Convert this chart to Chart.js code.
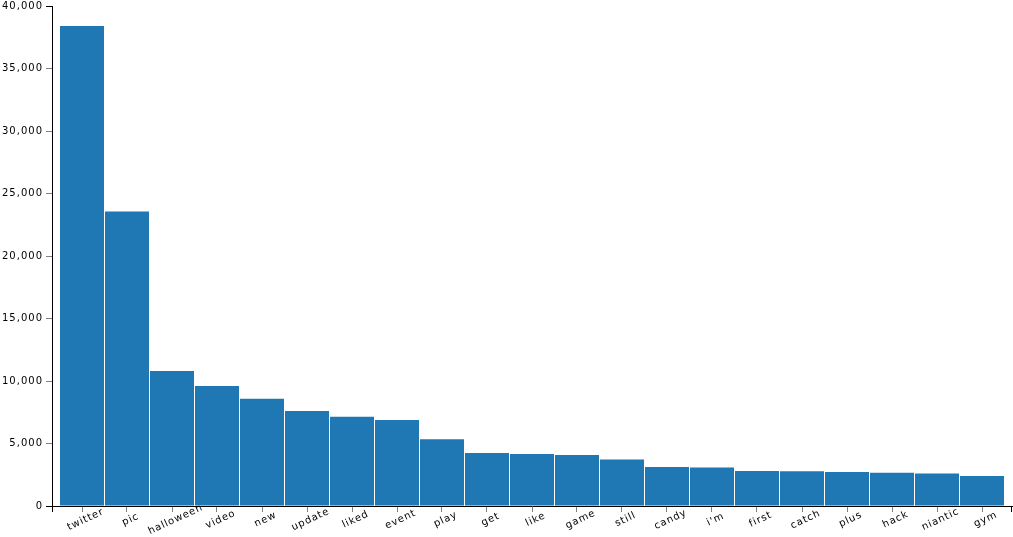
<!DOCTYPE html>
<html>
<head>
<meta charset="utf-8">
<script src="https://cdn.jsdelivr.net/npm/chart.js@4"></script>
<style>
html,body{margin:0;padding:0;background:#fff;}
#wrap{width:1013px;height:537px;}
</style>
</head>
<body>
<div id="wrap"><canvas id="c"></canvas></div>
<script>
const categories = ["twitter","pic","halloween","video","new","update","liked","event","play","get","like","game","still","candy","i'm","first","catch","plus","hack","niantic","gym"];
const counts = [38400,23560,10800,9610,8580,7600,7140,6890,5340,4240,4160,4090,3730,3120,3090,2800,2780,2720,2670,2610,2400];
const yTicks = [0,5000,10000,15000,20000,25000,30000,35000,40000];

const FONT = '10px "DejaVu Sans"';

const axisExtras = {
  id: 'axisExtras',
  beforeDraw(chart) { chart.ctx.letterSpacing = '1px'; },
  afterDraw(chart) {
    const ctx = chart.ctx;
    const xs = chart.scales.x;
    const area = chart.chartArea;
    ctx.save();
    ctx.strokeStyle = '#000';
    ctx.lineWidth = 1;
    ctx.beginPath();
    ctx.moveTo(Math.round(area.left) + 0.5, area.bottom);
    ctx.lineTo(Math.round(area.left) + 0.5, area.bottom + 6);
    ctx.moveTo(Math.round(area.right) - 0.5, area.bottom);
    ctx.lineTo(Math.round(area.right) - 0.5, area.bottom + 6);
    ctx.stroke();
    ctx.font = FONT;
    ctx.fillStyle = '#000';
    ctx.textAlign = 'center';
    ctx.textBaseline = 'alphabetic';
    ctx.letterSpacing = '0.9px';
    categories.forEach((c, i) => {
      const px = xs.getPixelForValue(i);
      ctx.save();
      ctx.translate(px + 1.5, area.bottom + 9);
      ctx.rotate(-25 * Math.PI / 180);
      ctx.fillText(c, 0, 7.6);
      ctx.restore();
    });
    ctx.restore();
  }
};

new Chart(document.getElementById('c'), {
  type: 'bar',
  data: {
    datasets: [{
      data: categories.map((c, i) => ({x: i, y: counts[i]})),
      backgroundColor: '#1f77b4',
      borderWidth: 0,
      barPercentage: 44/45,
      categoryPercentage: 1
    }]
  },
  options: {
    responsive: true,
    maintainAspectRatio: false,
    animation: false,
    devicePixelRatio: 1,
    layout: { padding: { top: 6, right: 1, left: 0, bottom: 0 } },
    plugins: { legend: { display: false }, tooltip: { enabled: false } },
    scales: {
      x: {
        type: 'linear',
        offset: false,
        min: -0.5 - 7.5/45,
        max: categories.length - 0.5 + 7.5/45,
        afterBuildTicks: s => { s.ticks = categories.map((c, i) => ({value: i})); },
        afterFit: s => { s.height = 31; s.paddingLeft = 0; s.paddingRight = 0; },
        ticks: { display: false },
        grid: { offset: false, drawOnChartArea: false, drawTicks: true, tickLength: 6, color: '#808080', lineWidth: 1 },
        border: { display: true, color: '#000', width: 1 }
      },
      y: {
        min: 0,
        max: 40000,
        afterBuildTicks: s => { s.ticks = yTicks.map(v => ({value: v})); },
        afterFit: s => { s.width = 52; s.paddingTop = 0; s.paddingBottom = 0; },
        ticks: {
          font: { family: 'DejaVu Sans', size: 10 },
          color: '#000',
          padding: 3,
          callback: v => v.toLocaleString('en-US')
        },
        grid: {
          drawOnChartArea: false, drawTicks: true, tickLength: 6, lineWidth: 1,
          color: c => (c.tick && (c.tick.value === 0 || c.tick.value === 40000)) ? '#000' : '#808080'
        },
        border: { display: true, color: '#000', width: 1 }
      }
    }
  },
  plugins: [axisExtras]
});
</script>
</body>
</html>
